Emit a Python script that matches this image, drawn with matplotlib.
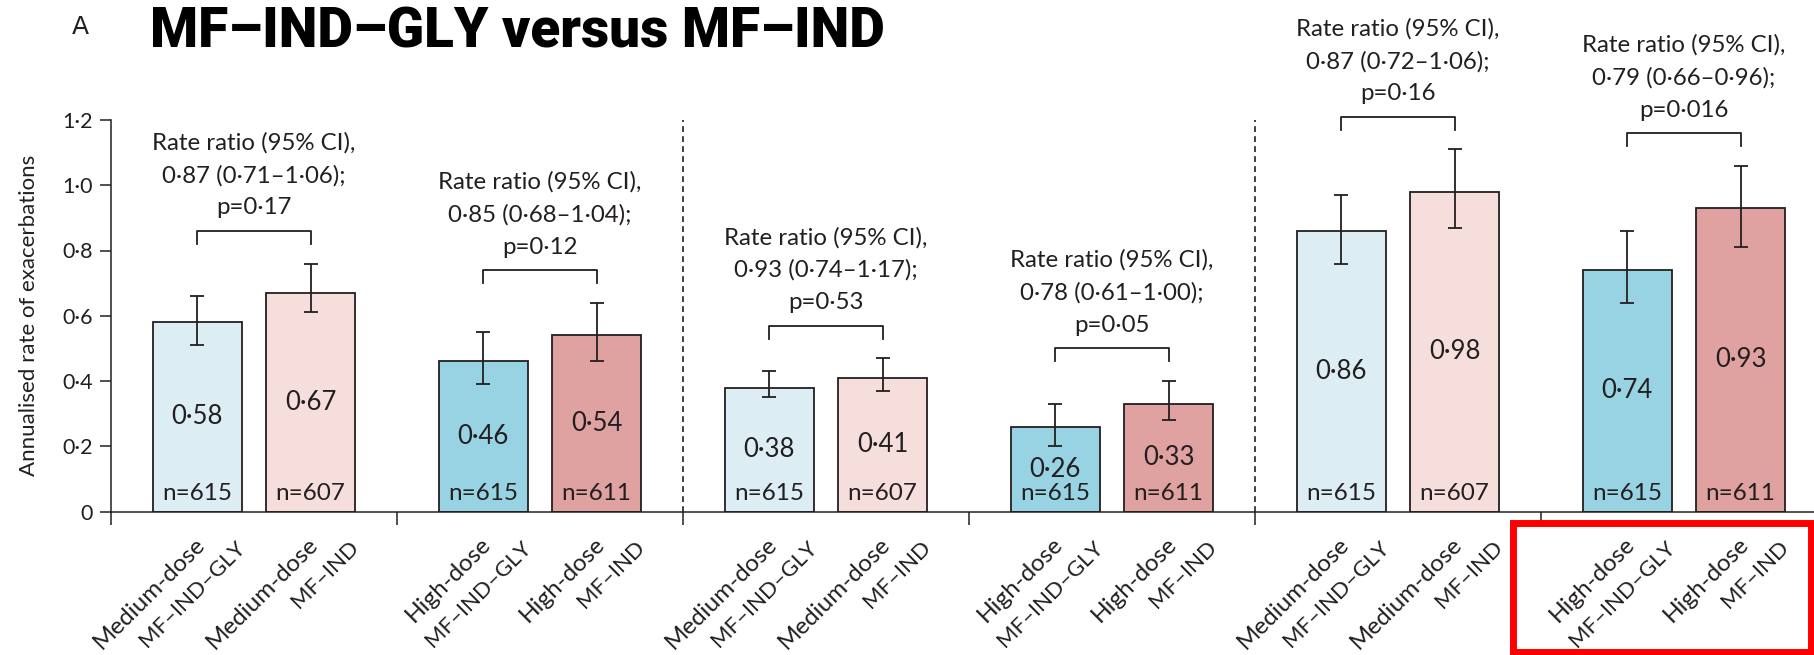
import matplotlib.pyplot as plt
from matplotlib.patches import Rectangle

plt.rcParams['font.family'] = ['Lato', 'DejaVu Sans']

# Annualised exacerbation rates, two arms per comparison
dose = ["Medium-dose", "Medium-dose", "High-dose", "High-dose"] * 3
treatment = ["MF–IND–GLY", "MF–IND", "MF–IND–GLY", "MF–IND"] * 3
rates = [0.58, 0.67, 0.46, 0.54, 0.38, 0.41, 0.26, 0.33, 0.86, 0.98, 0.74, 0.93]
ci_low = [0.51, 0.61, 0.39, 0.46, 0.35, 0.37, 0.20, 0.28, 0.76, 0.87, 0.64, 0.81]
ci_high = [0.66, 0.76, 0.55, 0.64, 0.43, 0.47, 0.33, 0.40, 0.97, 1.11, 0.86, 1.06]
n_patients = [615, 607, 615, 611, 615, 607, 615, 611, 615, 607, 615, 611]
rate_labels = ["0·58", "0·67", "0·46", "0·54", "0·38", "0·41",
               "0·26", "0·33", "0·86", "0·98", "0·74", "0·93"]

# Rate ratio for each pair
ratio_ci = ["0·87 (0·71–1·06);", "0·85 (0·68–1·04);", "0·93 (0·74–1·17);",
            "0·78 (0·61–1·00);", "0·87 (0·72–1·06);", "0·79 (0·66–0·96);"]
p_values = ["p=0·17", "p=0·12", "p=0·53", "p=0·05", "p=0·16", "p=0·016"]

yticks = [0, 0.2, 0.4, 0.6, 0.8, 1.0, 1.2]
ytick_labels = ["0", "0·2", "0·4", "0·6", "0·8", "1·0", "1·2"]

ink = "#231f20"
light_blue = "#dceef3"
light_red = "#f5dedb"
blue = "#97d3e3"
red = "#e0a2a0"
fills = [light_blue, light_red, blue, red] * 3

W, H = 1814, 655
fig = plt.figure(figsize=(W / 100, H / 100), dpi=100)
ax = fig.add_axes([111 / W, 143.5 / H, 1 - 111 / W, 391.5 / H])

offset = 0.198
width = 0.31
xs = []
for g in range(len(ratio_ci)):
    xs += [g - offset, g + offset]

ax.bar(xs, rates, width=width, color=fills, edgecolor=ink, linewidth=1.3, zorder=2)
yerr = [[r - lo for r, lo in zip(rates, ci_low)],
        [hi - r for r, hi in zip(rates, ci_high)]]
ax.errorbar(xs, rates, yerr=yerr, fmt="none", ecolor=ink, elinewidth=1.3,
            capsize=4.7, capthick=1.3, zorder=3)

for x, r, lab, n in zip(xs, rates, rate_labels, n_patients):
    ax.text(x, r / 2, lab, ha="center", va="center", fontsize=18.5, color=ink, zorder=4)
    ax.annotate(f"n={n}", xy=(x, 0), xytext=(0, 13), textcoords="offset points",
                ha="center", va="center", fontsize=17.5, color=ink, zorder=4)

# brackets and rate ratio text above each pair
for g in range(len(ratio_ci)):
    x1, x2 = xs[2 * g], xs[2 * g + 1]
    top = max(ci_high[2 * g], ci_high[2 * g + 1]) + 0.10
    ax.plot([x1, x1, x2, x2], [top - 0.04, top, top, top - 0.04], color=ink,
            lw=1.3, clip_on=False)
    ax.annotate(f"Rate ratio (95% CI),\n{ratio_ci[g]}\n{p_values[g]}",
                xy=((x1 + x2) / 2, top), xytext=(0, 9), textcoords="offset points",
                ha="center", va="bottom", fontsize=17.3, color=ink,
                linespacing=1.65, annotation_clip=False)

# slanted two-line arm names under each bar, second line stepped to the right
for x, d, t in zip(xs, dose, treatment):
    for txt, dx, dy, size in [(d, -2.2, -15.5, 17.5), (t, 27.4, -18.5, 16)]:
        ax.annotate(txt, xy=(x, 0), xytext=(dx, dy), textcoords="offset points",
                    rotation=45, rotation_mode="anchor", ha="right", va="top",
                    fontsize=size, color=ink, annotation_clip=False)

# dashed separators between the three comparisons
ax.vlines([1.5, 3.5], 0, 1.2, colors=ink, linestyles=(0, (3.5, 2.5)), lw=1.2)

ax.set_xlim(-0.5, 5.455)
ax.set_ylim(0, 1.2)
ax.set_yticks(yticks, ytick_labels)
ax.set_xticks([g - 0.5 for g in range(6)], [""] * 6)
ax.tick_params(axis="y", length=8, width=1.1, pad=5, labelsize=15.5, colors=ink)
ax.tick_params(axis="x", which="major", length=9.5, width=1.1, colors=ink)

for side in ["top", "right"]:
    ax.spines[side].set_visible(False)
for side in ["left", "bottom"]:
    ax.spines[side].set_linewidth(1.1)
    ax.spines[side].set_color(ink)

ax.set_ylabel("Annualised rate of exacerbations", fontsize=16, color=ink, labelpad=17)

fig.text(72 / W, 1 - 34 / H, "A", fontsize=18, color=ink, va="baseline",
         family=["Liberation Sans Narrow", "DejaVu Sans"])
fig.text(150 / W, 1 - 48 / H, "MF–IND–GLY versus MF–IND", fontsize=39.5,
         fontweight="black", color="black", va="baseline",
         family=["Roboto", "DejaVu Sans"])

fig.add_artist(Rectangle((1513 / W, 3 / H), 298 / W, 129 / H, transform=fig.transFigure,
                         fill=False, edgecolor="#ff0000", linewidth=5))

fig.savefig("out.png", dpi=100)
